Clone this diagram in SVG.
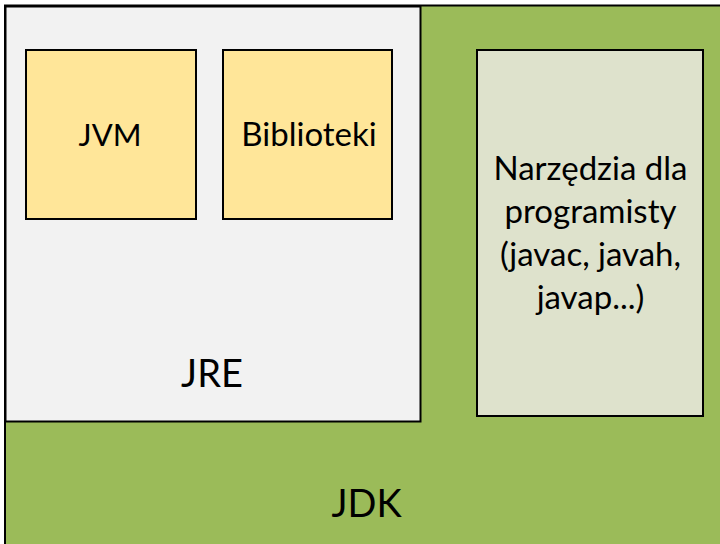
<svg xmlns="http://www.w3.org/2000/svg" width="720" height="544" viewBox="0 0 720 544">
<style>
.box{stroke:#000;stroke-width:2}
text{font-family:Lato,"Liberation Sans",sans-serif;fill:#000;text-anchor:middle}
.s{font-size:33px}
.l{font-size:38px}
</style>
<rect width="720" height="544" fill="#fff"/>
<g id="jdk">
<rect class="box" x="5" y="5.5" width="720" height="545" fill="#9BBB59"/>
<text class="l" x="366.5" y="516.5">JDK</text>
</g>
<g id="jre">
<rect class="box" x="5.5" y="6.5" width="415" height="415" fill="#F2F2F2"/>
<text class="l" x="212" y="386.5">JRE</text>
</g>
<g id="jvm">
<rect class="box" x="26" y="50" width="170" height="169" fill="#FFE699"/>
<text class="s" x="110" y="146" style="font-size:31px">JVM</text>
</g>
<g id="biblioteki">
<rect class="box" x="223" y="50" width="169" height="169" fill="#FFE699"/>
<text class="s" x="309" y="146">Biblioteki</text>
</g>
<g id="narzedzia">
<rect class="box" x="477" y="50" width="226" height="366" fill="#DEE2CC"/>
<text class="s" x="590.5"><tspan x="590.5" y="179.5">Narzędzia dla</tspan><tspan x="590.5" y="222.5">programisty</tspan><tspan x="590.5" y="266">(javac, javah,</tspan><tspan x="590.5" y="308.5">javap...)</tspan></text>
</g>
<g id="connectors"/>
</svg>
